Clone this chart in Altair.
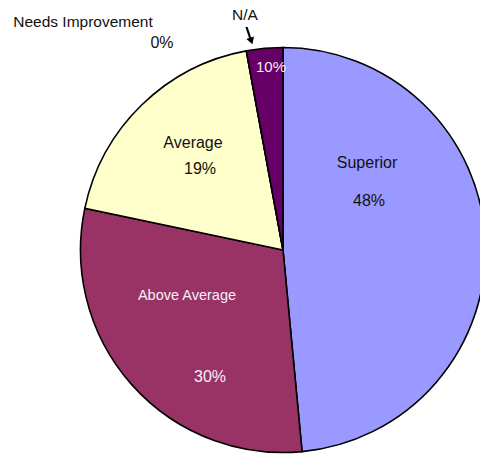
import altair as alt
import pandas as pd

# ---- data ----
categories = ["Superior", "Above Average", "Average", "Needs Improvement", "N/A"]
values = [48.5, 29.8, 18.8, 0.0, 2.9]
pct_labels = ["48%", "30%", "19%", "0%", "10%"]
colors = ["#9999FF", "#993366", "#FFFFCC", "#FFFFFF", "#660066"]

# ---- layout (annotation positions, px) ----
CX, CY, R = 283, 250, 202.5
name_pos = {
    "Superior": (367, 163, 16, "#111111"),
    "Above Average": (187, 296, 14.5, "#F6EEF6"),
    "Average": (193, 143, 16, "#111111"),
    "Needs Improvement": (83, 22, 15.5, "#111111"),
    "N/A": (245, 15, 15.5, "#111111"),
}
pct_pos = {
    "Superior": (369, 201, 16, "#111111"),
    "Above Average": (210, 377, 16, "#F6EEF6"),
    "Average": (200, 169, 16, "#111111"),
    "Needs Improvement": (162, 43, 16, "#111111"),
    "N/A": (271, 67, 15, "#F6EEF6"),
}

pie_df = pd.DataFrame({"category": categories, "value": values,
                       "idx": list(range(len(categories)))})

rows = []
for c, p in zip(categories, pct_labels):
    x, y, s, col = name_pos[c]
    rows.append({"text": c, "x": x, "y": y, "size": s, "col": col})
    x, y, s, col = pct_pos[c]
    rows.append({"text": p, "x": x, "y": y, "size": s, "col": col})
lab_df = pd.DataFrame(rows)

pie = alt.Chart(pie_df).mark_arc(
    outerRadius=R, stroke="black", strokeWidth=1.6
).encode(
    theta=alt.Theta("value:Q", stack=True),
    color=alt.Color("category:N", scale=alt.Scale(domain=categories, range=colors), legend=None),
    order=alt.Order("idx:Q"),
    x=alt.value(CX),
    y=alt.value(CY),
)

text = alt.Chart(lab_df).mark_text(
    font="Liberation Sans", align="center", baseline="middle"
).encode(
    x=alt.X("x:Q", scale=None),
    y=alt.Y("y:Q", scale=None),
    text="text:N",
    size=alt.Size("size:Q", scale=None),
    color=alt.Color("col:N", scale=None),
)

arrow_line = alt.Chart(pd.DataFrame({"a": [0]})).mark_rule(
    color="black", strokeWidth=2.2
).encode(
    x=alt.value(246.5), y=alt.value(27), x2=alt.value(250.5), y2=alt.value(39)
)
arrow_head = alt.Chart(pd.DataFrame({"a": [0]})).mark_point(
    shape="triangle-down", filled=True, color="black", size=65, angle=341, opacity=1
).encode(x=alt.value(251.3), y=alt.value(41))

chart = alt.layer(pie, text, arrow_line, arrow_head).properties(
    width=480, height=455, padding=0, autosize=alt.AutoSizeParams(type="none")
).configure_view(stroke=None)

chart.save("out.html", embed_options={"renderer": "svg", "actions": False})
